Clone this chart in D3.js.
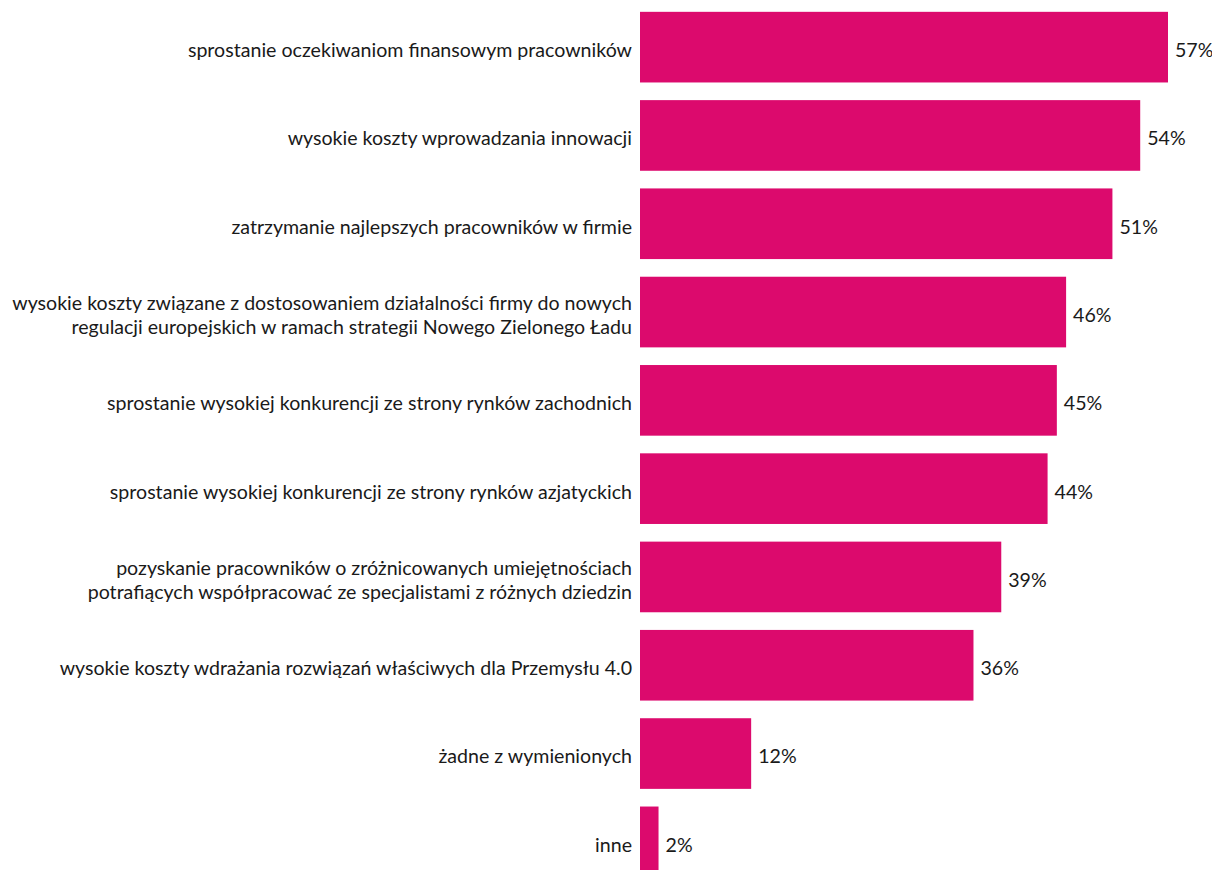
<!DOCTYPE html>
<html>
<head>
<meta charset="utf-8">
<script src="https://cdn.jsdelivr.net/npm/d3@7"></script>
<style>
  html, body { margin: 0; padding: 0; background: #fff; }
  svg { display: block; }
  text { font-family: Lato, "Open Sans", sans-serif; fill: #1a1a1a; }
</style>
</head>
<body>
<svg id="chart" width="1212" height="870"></svg>
<script>
// Challenges named by companies (share of answers, %)
const categories = [
  ["sprostanie oczekiwaniom finansowym pracowników"],
  ["wysokie koszty wprowadzania innowacji"],
  ["zatrzymanie najlepszych pracowników w firmie"],
  ["wysokie koszty związane z dostosowaniem działalności firmy do nowych",
   "regulacji europejskich w ramach strategii Nowego Zielonego Ładu"],
  ["sprostanie wysokiej konkurencji ze strony rynków zachodnich"],
  ["sprostanie wysokiej konkurencji ze strony rynków azjatyckich"],
  ["pozyskanie pracowników o zróżnicowanych umiejętnościach",
   "potrafiących współpracować ze specjalistami z różnych dziedzin"],
  ["wysokie koszty wdrażania rozwiązań właściwych dla Przemysłu 4.0"],
  ["żadne z wymienionych"],
  ["inne"]
];
const values = [57, 54, 51, 46, 45, 44, 39, 36, 12, 2];
const valueLabels = values.map(v => v + "%");

const svg = d3.select("#chart");
const barColor = "#dc0a6d";

const x0 = 640;
const x = d3.scaleLinear().domain([0, 57]).range([x0, 1168]);
const y = d3.scaleBand()
  .domain(d3.range(values.length))
  .range([3, 886])
  .paddingInner(0.2)
  .paddingOuter(0.1);

const rows = svg.selectAll("g.row")
  .data(values)
  .join("g")
  .attr("class", "row");

rows.append("rect")
  .attr("x", x(0))
  .attr("y", (d, i) => y(i))
  .attr("width", d => x(d) - x(0))
  .attr("height", y.bandwidth())
  .attr("fill", barColor);

const fontSize = 19.6;
const lineH = 24.5;
const shift = 3;

rows.append("text")
  .attr("x", d => x(d) + 7)
  .attr("y", (d, i) => y(i) + y.bandwidth() / 2 + shift)
  .attr("dy", "0.35em")
  .style("font-size", fontSize + "px")
  .text((d, i) => valueLabels[i]);

rows.each(function (d, i) {
  const lines = categories[i];
  const cy = y(i) + y.bandwidth() / 2 + shift;
  const t = d3.select(this).append("text")
    .attr("text-anchor", "end")
    .style("font-size", fontSize + "px");
  lines.forEach((ln, k) => {
    t.append("tspan")
      .attr("x", x0 - 8)
      .attr("y", cy + (k - (lines.length - 1) / 2) * lineH)
      .attr("dy", "0.35em")
      .text(ln);
  });
});
</script>
</body>
</html>
